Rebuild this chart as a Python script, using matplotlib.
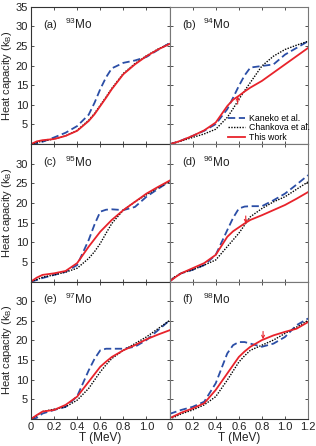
import matplotlib
matplotlib.use("Agg")
import matplotlib.pyplot as plt

plt.rcParams['font.family'] = ['Liberation Sans', 'DejaVu Sans']
plt.rcParams['mathtext.fontset'] = 'custom'
plt.rcParams['mathtext.rm'] = 'Liberation Sans'

temps = [0, 0.05, 0.1, 0.2, 0.3, 0.4, 0.5, 0.55, 0.6, 0.65, 0.7, 0.8, 0.9, 1.0, 1.1, 1.2]

panel_tags = ['(a)', '(b)', '(c)', '(d)', '(e)', '(f)']
isotopes = ['93', '94', '95', '96', '97', '98']

kaneko = [
    [0, 0.2, 0.6, 1.7, 2.9, 4.6, 7.5, 10.5, 14.0, 17.0, 19.3, 20.7, 21.3, 22.2, 24.0, 25.7],
    [0, 0.4, 0.9, 2.1, 3.4, 5.1, 8.9, 11.8, 14.8, 17.5, 19.5, 19.9, 20.3, 22.8, 24.5, 26.2],
    [0, 0.4, 0.9, 1.7, 2.5, 4.2, 10.6, 14.5, 17.8, 18.3, 18.4, 18.2, 19.0, 21.6, 23.6, 25.5],
    [0, 1.2, 2.1, 3.0, 4.2, 6.8, 13.1, 16.2, 18.6, 19.1, 19.2, 19.2, 20.7, 22.4, 24.7, 27.1],
    [0, 0.3, 1.4, 2.3, 3.1, 5.8, 12.4, 15.3, 17.5, 17.9, 17.9, 17.9, 18.4, 20.1, 22.6, 25.1],
    [1.3, 1.8, 2.3, 3.1, 4.4, 9.1, 16.7, 18.8, 19.6, 19.6, 19.2, 18.4, 19.2, 20.9, 23.9, 25.6],
]
chankova = [
    [0, 0.4, 0.8, 1.3, 2.1, 3.5, 6.1, 7.8, 9.9, 12.0, 14.2, 18.0, 20.5, 22.5, 24.2, 25.6],
    [0, 0.4, 0.8, 1.7, 2.6, 3.8, 6.8, 9.0, 11.4, 13.6, 15.7, 19.9, 22.4, 24.1, 25.2, 26.2],
    [0, 0.5, 1.1, 1.7, 2.4, 3.4, 5.9, 7.6, 9.7, 12.3, 14.8, 18.2, 20.3, 22.1, 23.9, 25.5],
    [0.3, 1.3, 2.1, 3.0, 4.2, 5.5, 8.9, 10.6, 12.3, 14.4, 16.5, 18.6, 20.3, 21.6, 23.5, 25.4],
    [0, 0.8, 1.9, 2.5, 3.1, 4.8, 7.8, 9.9, 12.0, 13.8, 15.4, 17.5, 19.2, 20.9, 23.0, 25.1],
    [0, 0.6, 1.3, 2.3, 3.6, 5.7, 9.9, 12.2, 14.5, 16.1, 17.5, 18.8, 20.1, 21.8, 23.4, 25.1],
]
this_work = [
    [0, 0.7, 1.0, 1.3, 2.1, 3.4, 5.9, 7.6, 9.7, 11.8, 14.0, 17.8, 20.3, 22.4, 24.1, 25.5],
    [0, 0.4, 0.9, 2.1, 3.5, 5.5, 9.7, 11.3, 12.3, 13.4, 14.4, 16.1, 18.2, 20.3, 22.4, 24.5],
    [0, 1.0, 1.7, 2.1, 2.7, 4.7, 8.9, 10.8, 12.7, 14.2, 15.7, 18.2, 20.3, 22.4, 24.1, 25.7],
    [0, 1.1, 2.1, 3.4, 4.7, 6.8, 11.4, 12.8, 13.8, 14.8, 15.7, 16.9, 18.2, 19.5, 21.1, 22.8],
    [0, 1.0, 1.9, 2.3, 3.6, 5.7, 9.5, 11.4, 13.3, 14.6, 15.8, 17.5, 18.8, 20.3, 21.5, 22.6],
    [0.2, 0.9, 1.6, 2.7, 4.0, 7.4, 11.6, 13.7, 15.8, 17.2, 18.4, 20.1, 21.3, 22.2, 23.0, 24.7],
]

# arrows: panel index, T, C_tail, C_head
arrow_panels = [1, 3, 5]
arrow_T = [0.59, 0.66, 0.81]
arrow_tail = [10.2, 16.7, 22.3]
arrow_head = [12.2, 14.8, 20.3]

series_labels = ['Kaneko et al.', 'Chankova et al.', 'This work']
xtick_vals = [0, 0.2, 0.4, 0.6, 0.8, 1.0, 1.2]
xtick_text = ['0', '0.2', '0.4', '0.6', '0.8', '1.0', '1.2']
ytick_vals = [0, 5, 10, 15, 20, 25, 30, 35]

blue = '#2b4ea6'
red = '#e8232b'

fig = plt.figure(figsize=(3.16, 4.46), dpi=100)
gs = fig.add_gridspec(3, 2, left=0.098, right=0.975, top=0.985, bottom=0.0605,
                      hspace=0, wspace=0)

for i in range(6):
    r, c = divmod(i, 2)
    ax = fig.add_subplot(gs[r, c])
    ax.plot(temps, kaneko[i], color=blue, ls=(0, (4, 2)), lw=1.3, label=series_labels[0])
    ax.plot(temps, chankova[i], color='black', ls=(0, (1, 1)), lw=1.0, label=series_labels[1])
    ax.plot(temps, this_work[i], color=red, ls='-', lw=1.3, label=series_labels[2])
    ax.set_xlim(0, 1.2)
    ax.set_ylim(0, 35)
    ax.set_xticks(xtick_vals)
    ax.set_yticks(ytick_vals)
    ax.tick_params(direction='in', length=2.5, width=0.6, top=True, right=True,
                   labelsize=8, pad=2, colors='#333333', labelcolor='#222222')
    if r == 2:
        if c == 0:
            ax.set_xticklabels(xtick_text[:-1] + [''])
        else:
            ax.set_xticklabels(xtick_text)
        ax.set_xlabel('T (MeV)', fontsize=8.5, labelpad=0, color='#222222')
    else:
        ax.set_xticklabels([])
    if c == 0:
        ylabs = ['' if v == 0 else str(v) for v in ytick_vals]
        if r > 0:
            ylabs[-1] = ''
        ax.set_yticklabels(ylabs)
        ax.set_ylabel('Heat capacity (k$_\\mathregular{B}$)', fontsize=8, color='#222222')
        ax.yaxis.set_label_coords(-0.125, 0.5)
    else:
        ax.set_yticklabels([])
    for sp in ax.spines.values():
        sp.set_linewidth(0.8)
        sp.set_color('#333333' if c == 0 else '#777777')
    if c == 1:
        ax.spines['bottom'].set_color('#333333')
    ax.text(0.09, 0.87, panel_tags[i], transform=ax.transAxes, fontsize=8,
            va='center', ha='left', color='#222222')
    ax.text(0.245, 0.87, '$^{\\mathregular{%s}}$Mo' % isotopes[i], transform=ax.transAxes,
            fontsize=8.5, va='center', ha='left', color='#222222')
    if i in arrow_panels:
        k = arrow_panels.index(i)
        ax.annotate('', xy=(arrow_T[k], arrow_head[k]), xytext=(arrow_T[k], arrow_tail[k]),
                    arrowprops=dict(arrowstyle='->', color=red, lw=0.8,
                                    shrinkA=0, shrinkB=0, mutation_scale=5))
    if i == 1:
        ax.legend(loc='lower right', frameon=False, fontsize=6.3, handlelength=2.0,
                  handletextpad=0.4, labelspacing=0.05, borderaxespad=0.2,
                  bbox_to_anchor=(1.05, -0.02))

fig.savefig('out.png', dpi=100)
